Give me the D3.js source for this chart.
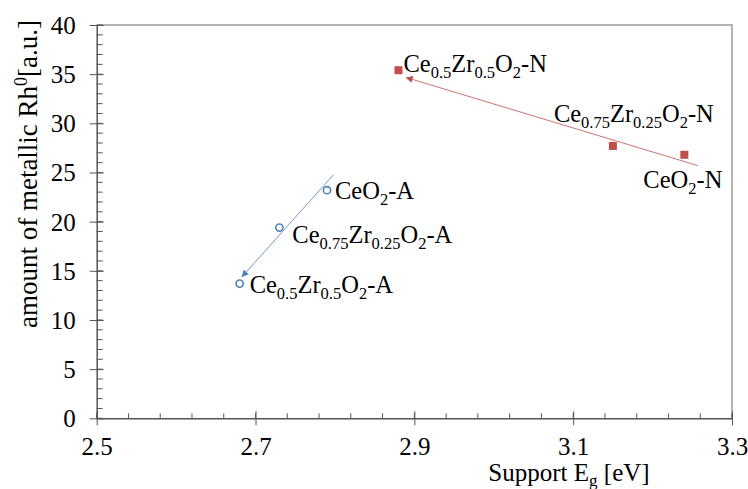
<!DOCTYPE html>
<html>
<head>
<meta charset="utf-8">
<script src="https://cdn.jsdelivr.net/npm/d3@7"></script>
<style>
  body { margin: 0; background: #fff; }
  text { font-family: "Liberation Serif", "Times New Roman", serif; fill: #000; }
</style>
</head>
<body>
<svg width="748" height="489"></svg>
<script>
// ---- data ----
var aNames  = ["CeO_{2}-A", "Ce_{0.75}Zr_{0.25}O_{2}-A", "Ce_{0.5}Zr_{0.5}O_{2}-A"];
var aEg     = [2.79, 2.73, 2.68];
var aRh     = [23.2, 19.4, 13.7];

var nNames  = ["Ce_{0.5}Zr_{0.5}O_{2}-N", "Ce_{0.75}Zr_{0.25}O_{2}-N", "CeO_{2}-N"];
var nEg     = [2.88, 3.15, 3.24];
var nRh     = [35.4, 27.7, 26.8];

// trend arrows: [x0, y0, x1, y1] (arrow points at the end)
var aArrow  = [2.798, 24.75, 2.683, 14.4];
var nArrow  = [3.257, 25.7, 2.890, 34.65];

var xTicks  = [2.5, 2.7, 2.9, 3.1, 3.3];
var yTicks  = [0, 5, 10, 15, 20, 25, 30, 35, 40];

// label placement relative to the marker (px)
var aLabelOff = [[8, 9], [13, 15], [10, 9]];
var nLabelOff = [[5, 2], [-59, -24], [-41, 33]];

var svg = d3.select("svg"),
    mLeft = 96.7, mRight = 732, mTop = 25, mBottom = 418.3,
    blue = "#4f81bd", red = "#c0504d";

var x = d3.scaleLinear().domain([2.5, 3.3]).range([mLeft, mRight]);
var y = d3.scaleLinear().domain([0, 40]).range([mBottom, mTop]);

// frame (top + right)
svg.append("path")
    .attr("d", "M" + mLeft + "," + mTop + "H" + mRight + "V" + mBottom)
    .attr("fill", "none").attr("stroke", "#9a9a9a").attr("stroke-width", 1.5);

// minor ticks
var gx = svg.append("g").attr("transform", "translate(0," + mBottom + ")");
gx.selectAll(".minor").data(d3.range(2.5, 3.3001, 0.04))
  .enter().append("line")
    .attr("x1", function(d) { return x(d); }).attr("x2", function(d) { return x(d); })
    .attr("y1", 0).attr("y2", -5)
    .attr("stroke", "#555");
var gy = svg.append("g").attr("transform", "translate(" + mLeft + ",0)");
gy.selectAll(".minor").data(d3.range(0, 40.001, 1))
  .enter().append("line")
    .attr("y1", function(d) { return y(d); }).attr("y2", function(d) { return y(d); })
    .attr("x1", 0).attr("x2", 6)
    .attr("stroke", "#555");

// major axes
gx.call(d3.axisBottom(x).tickValues(xTicks).tickFormat(d3.format(".1f")).tickSizeOuter(0));
gy.call(d3.axisLeft(y).tickValues(yTicks).tickSizeOuter(0));

[gx, gy].forEach(function(g) {
  g.select(".domain").attr("stroke", "#555").attr("stroke-width", 1.5);
  g.selectAll(".tick text").attr("font-family", "Liberation Serif").attr("font-size", 25).attr("fill", "#000");
});
gx.selectAll(".tick line").attr("y1", -7).attr("y2", 7).attr("stroke", "#555");
gy.selectAll(".tick line").attr("x1", -7).attr("x2", 7).attr("stroke", "#555");
gx.selectAll(".tick text").attr("y", 37).attr("dy", null);
gy.selectAll(".tick text").attr("x", -21).attr("dy", "0.34em");

// axis titles
var xt = svg.append("text").attr("x", 569).attr("y", 481).attr("text-anchor", "middle").attr("font-size", 25);
xt.append("tspan").text("Support E");
xt.append("tspan").attr("dy", 5).attr("font-size", 17).text("g");
xt.append("tspan").attr("dy", -5).text(" [eV]");

var yt = svg.append("text").attr("transform", "translate(37,174) rotate(-90)")
    .attr("text-anchor", "middle").attr("font-size", 27);
yt.append("tspan").text("amount of metallic Rh");
yt.append("tspan").attr("dy", -10).attr("font-size", 18).text("0");
yt.append("tspan").attr("dy", 10).text("[a.u.]");

// arrows
var defs = svg.append("defs");
[["arrA", blue], ["arrN", red]].forEach(function(m) {
  defs.append("marker").attr("id", m[0])
      .attr("viewBox", "0 0 10 10").attr("refX", 9).attr("refY", 5)
      .attr("markerUnits", "userSpaceOnUse")
      .attr("markerWidth", 8).attr("markerHeight", 7).attr("orient", "auto")
    .append("path").attr("d", "M0,0L10,5L0,10z").attr("fill", m[1]);
});
[[aArrow, blue, "arrA"], [nArrow, red, "arrN"]].forEach(function(a) {
  svg.append("line")
      .attr("x1", x(a[0][0])).attr("y1", y(a[0][1]))
      .attr("x2", x(a[0][2])).attr("y2", y(a[0][3]))
      .attr("stroke", a[1]).attr("stroke-width", 1).attr("stroke-opacity", 0.8)
      .attr("marker-end", "url(#" + a[2] + ")");
});

// markers
svg.selectAll(".ptA").data(aEg)
  .enter().append("circle")
    .attr("cx", function(d) { return x(d); })
    .attr("cy", function(d, i) { return y(aRh[i]); })
    .attr("r", 3.6).attr("fill", "#fff").attr("stroke", blue).attr("stroke-width", 1.6);
svg.selectAll(".ptN").data(nEg)
  .enter().append("rect")
    .attr("x", function(d) { return x(d) - 4; })
    .attr("y", function(d, i) { return y(nRh[i]) - 4; })
    .attr("width", 8).attr("height", 8).attr("fill", red);

// labels with subscripts, "_{...}" marks a subscript
function richLabel(txt, px, py) {
  var t = svg.append("text").attr("x", px).attr("y", py).attr("font-size", 24.5),
      parts = txt.split(/(_\{[^}]*\})/), shift = 0;
  parts.forEach(function(p) {
    if (!p) return;
    if (p[0] === "_") {
      t.append("tspan").attr("dy", 6 - shift).attr("font-size", 16.5).text(p.slice(2, -1));
      shift = 6;
    } else {
      t.append("tspan").attr("dy", -shift).text(p);
      shift = 0;
    }
  });
}
aNames.forEach(function(n, i) { richLabel(n, x(aEg[i]) + aLabelOff[i][0], y(aRh[i]) + aLabelOff[i][1]); });
nNames.forEach(function(n, i) { richLabel(n, x(nEg[i]) + nLabelOff[i][0], y(nRh[i]) + nLabelOff[i][1]); });
</script>
</body>
</html>
